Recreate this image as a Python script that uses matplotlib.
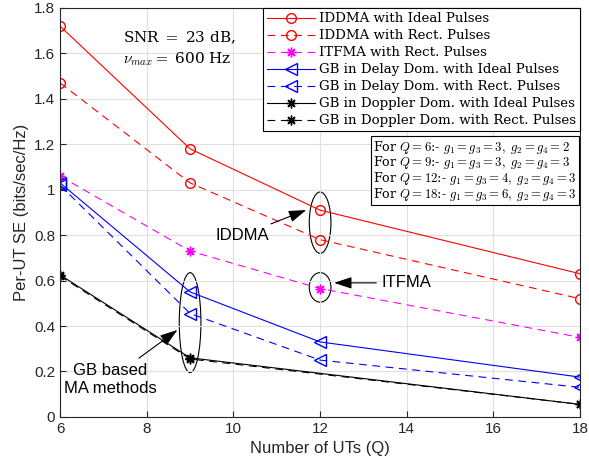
import matplotlib.pyplot as plt
from matplotlib.patches import Ellipse

# data
q_all = [6, 9, 12, 18]
q_dop = [6, 9, 18]

iddma_ideal = [1.72, 1.18, 0.91, 0.63]
iddma_rect = [1.47, 1.03, 0.78, 0.52]
itfma_rect = [1.06, 0.73, 0.565, 0.35]
gb_delay_ideal = [1.03, 0.55, 0.33, 0.175]
gb_delay_rect = [1.02, 0.455, 0.25, 0.13]
gb_dop_ideal = [0.625, 0.26, 0.055]
gb_dop_rect = [0.62, 0.255, 0.055]

labels = ["IDDMA with Ideal Pulses", "IDDMA with Rect. Pulses",
          "ITFMA with Rect. Pulses", "GB in Delay Dom. with Ideal Pulses",
          "GB in Delay Dom. with Rect. Pulses", "GB in Doppler Dom. with Ideal Pulses",
          "GB in Doppler Dom. with Rect. Pulses"]

x_ticks = [6, 8, 10, 12, 14, 16, 18]
y_ticks = [0, 0.2, 0.4, 0.6, 0.8, 1.0, 1.2, 1.4, 1.6, 1.8]
y_ticklabels = ["0", "0.2", "0.4", "0.6", "0.8", "1", "1.2", "1.4", "1.6", "1.8"]

plt.rcParams['font.family'] = 'Liberation Sans'
plt.rcParams['mathtext.fontset'] = 'cm'

fig = plt.figure(figsize=(5.89, 4.70), dpi=100)
ax = fig.add_axes([0.102, 0.113, 0.883, 0.870])

ast = (8, 2, 0)
dash = (7, 5)
lw = 0.8
ax.plot(q_all, iddma_ideal, color='red', lw=lw, marker='o', ms=7, mfc='none', label=labels[0])
ax.plot(q_all, iddma_rect, color='red', lw=lw, ls='--', dashes=dash, marker='o', ms=7, mfc='none', label=labels[1])
ax.plot(q_all, itfma_rect, color='magenta', lw=lw, ls='--', dashes=dash, marker=ast, ms=7, label=labels[2])
ax.plot(q_all, gb_delay_ideal, color='blue', lw=lw, marker='<', ms=8, mfc='none', label=labels[3])
ax.plot(q_all, gb_delay_rect, color='blue', lw=lw, ls='--', dashes=dash, marker='<', ms=8, mfc='none', label=labels[4])
ax.plot(q_dop, gb_dop_ideal, color='black', lw=lw, marker=ast, ms=7, label=labels[5])
ax.plot(q_dop, gb_dop_rect, color='black', lw=lw, ls='--', dashes=dash, marker=ast, ms=7, label=labels[6])

ax.set_xlim(6, 18)
ax.set_ylim(0, 1.8)
ax.set_xticks(x_ticks)
ax.set_yticks(y_ticks)
ax.set_yticklabels(y_ticklabels)
ax.tick_params(direction='in', labelsize=11, colors='#262626', length=4)
for s in ax.spines.values():
    s.set_color('#262626')
    s.set_linewidth(0.8)
ax.grid(True, color='#e0e0e0', lw=0.8)
ax.set_xlabel("Number of UTs (Q)", fontsize=12, color='#262626')
ax.set_ylabel("Per-UT SE (bits/sec/Hz)", fontsize=12, color='#262626')

leg = ax.legend(loc='upper right', prop={'family': 'DejaVu Serif', 'size': 9.6},
                handlelength=3.6, borderaxespad=0.03, borderpad=0.3,
                labelspacing=0.3, handletextpad=0.3, fancybox=False,
                edgecolor='black', framealpha=1)
leg.get_frame().set_linewidth(0.8)

box_text = ("For $Q=6$:- $g_1=g_3=3,\\ g_2=g_4=2$\n"
            "For $Q=9$:- $g_1=g_3=3,\\ g_2=g_4=3$\n"
            "For $Q=12$:- $g_1=g_3=4,\\ g_2=g_4=3$\n"
            "For $Q=18$:- $g_1=g_3=6,\\ g_2=g_4=3$")
ax.text(0.995, 0.68, box_text, transform=ax.transAxes, ha='left', va='top',
        fontsize=9.2, family='DejaVu Serif', linespacing=0.88,
        bbox=dict(boxstyle='square,pad=0.2', fc='white', ec='black', lw=0.8))
# realign the box to the right edge after measuring
fig.canvas.draw()
t = ax.texts[-1]
bb = t.get_window_extent().transformed(ax.transAxes.inverted())
t.set_x(0.993 - bb.width)

ax.text(7.45, 1.62, "SNR $=$ 23 dB,\n$\\nu_{max}=$ 600 Hz", fontsize=11,
        family='DejaVu Serif', va='center', ha='left', linespacing=1.3)

# ellipses
for cx, cy, h in [(12, 0.855, 0.27), (12, 0.57, 0.13), (9, 0.415, 0.44)]:
    ax.add_patch(Ellipse((cx, cy), 0.5, h, fill=False, ec='black', lw=0.8))

arr = dict(arrowstyle='-|>,head_length=0.9,head_width=0.3', color='black', lw=0.8)
ax.annotate("IDDMA", xy=(11.74, 0.915), xytext=(10.2, 0.80), fontsize=12,
            ha='center', va='center', arrowprops=arr)
ax.annotate("ITFMA", xy=(12.26, 0.59), xytext=(14.0, 0.59), fontsize=12,
            ha='center', va='center', arrowprops=arr)
ax.annotate("GB based\nMA methods", xy=(8.76, 0.39), xytext=(7.15, 0.165),
            fontsize=12, ha='center', va='center', linespacing=1.3, arrowprops=arr)

fig.savefig("out.png", dpi=100)
